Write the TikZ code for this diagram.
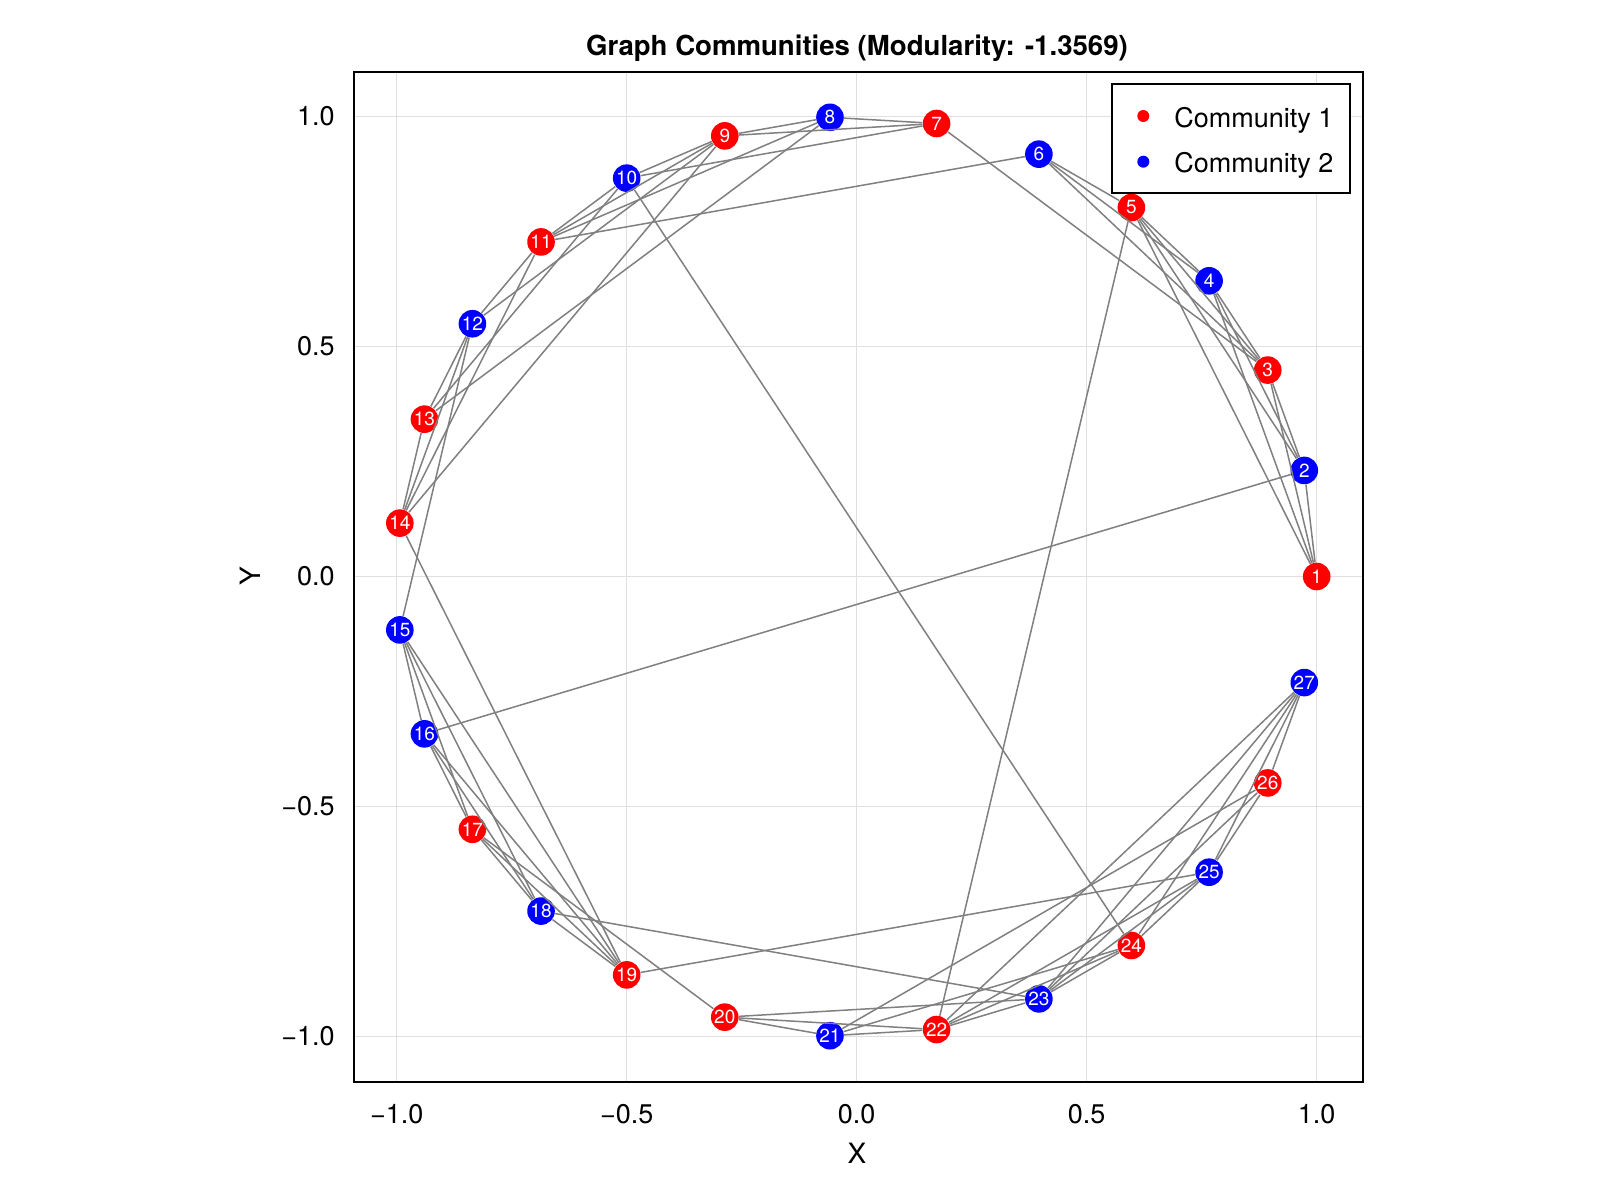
\documentclass[tikz,border=0pt]{standalone}
\usepackage{fontspec}
\setmainfont{TeX Gyre Heros}
\definecolor{edgegray}{RGB}{128,128,128}
\definecolor{gridgray}{RGB}{224,224,224}
\definecolor{cred}{RGB}{255,0,0}
\definecolor{cblue}{RGB}{0,0,255}
\begin{document}
\begin{tikzpicture}[x=0.5pt,y=-0.5pt,
  link/.style={draw=edgegray,line width=0.75pt},
  gridline/.style={draw=gridgray,line width=0.75pt},
  vtx/.style={circle,inner sep=0pt,minimum size=13.8pt,text=white,font=\fontsize{9.5}{9.5}\selectfont},
  ticklab/.style={font=\fontsize{13.5}{13.5}\selectfont,inner sep=0pt},
  leglab/.style={font=\fontsize{13.5}{13.5}\selectfont,inner sep=0pt,anchor=base west},
  legdot/.style={circle,inner sep=0pt,minimum size=6pt}]
\fill[white] (0,0) rectangle (1600,1200);
\useasboundingbox (0,0) rectangle (1600,1200);
\begin{scope}[shift={(856.7,576.5)},x=230pt,y=230pt]
  \foreach \v in {-1,-0.5,0,0.5,1} {
    \draw[gridline] (\v,-1.0978) -- (\v,1.0978);
    \draw[gridline] (-1.0929,\v) -- (1.0997,\v);
  }
  \foreach \i/\c in {1/cred,2/cblue,3/cred,4/cblue,5/cred,6/cblue,7/cred,8/cblue,9/cred,10/cblue,11/cred,12/cblue,13/cred,14/cred,15/cblue,16/cblue,17/cred,18/cblue,19/cred,20/cred,21/cblue,22/cred,23/cblue,24/cred,25/cblue,26/cred,27/cblue}
    \node[vtx,fill=\c] (n\i) at ({(\i-1)*360/27}:1) {\i};
  \foreach \a/\b in {1/2,1/3,1/4,1/5,2/3,2/4,2/5,2/16,3/4,3/5,3/6,3/7,4/5,4/6,5/6,5/22,6/11,
    7/8,7/9,7/10,8/9,8/11,8/13,9/10,9/11,9/12,9/14,10/11,10/13,10/24,11/12,11/14,12/13,12/14,12/15,13/14,14/19,
    15/16,15/17,15/18,15/19,16/17,16/18,16/19,17/18,17/19,17/20,18/19,18/23,19/25,
    20/21,20/22,20/23,21/22,21/24,21/26,22/23,22/24,22/25,22/27,23/24,23/25,23/26,23/27,24/25,24/27,25/26,25/27,26/27}
    \draw[link] (n\a) -- (n\b);
  \draw[line width=1pt] (-1.0929,-1.0978) rectangle (1.0997,1.0978);
\end{scope}
% tick labels
\foreach \k/\v/\t in {1/-1/−1.0,2/-0.5/−0.5,3/0/0.0,4/0.5/0.5,5/1/1.0} {
  \node[ticklab,anchor=east] (yt\k) at (335,{576.5-460*\v}) {\t};
  \node[ticklab,anchor=center] (xt\k) at ({856.7+460*\v},1114) {\t};
}
\node[font=\fontsize{14}{14}\selectfont,inner sep=0pt] (xlab) at (857,1153) {X};
\node[font=\fontsize{14}{14}\selectfont,inner sep=0pt,rotate=90] (ylab) at (250,576.5) {Y};
\node[font=\bfseries\fontsize{13.8}{13.8}\selectfont,inner sep=0pt] (title) at (857,48) {Graph Communities (Modularity: -1.3569)};
% legend
\draw[line width=1pt,fill=white] (1112,84) rectangle (1350,192.7);
\node[legdot,fill=cred] (ld1) at (1143.3,116) {};
\node[legdot,fill=cblue] (ld2) at (1143.3,161.7) {};
\node[leglab] (ll1) at (1174,127.3) {Community 1};
\node[leglab] (ll2) at (1174,172.7) {Community 2};
\end{tikzpicture}
\end{document}
